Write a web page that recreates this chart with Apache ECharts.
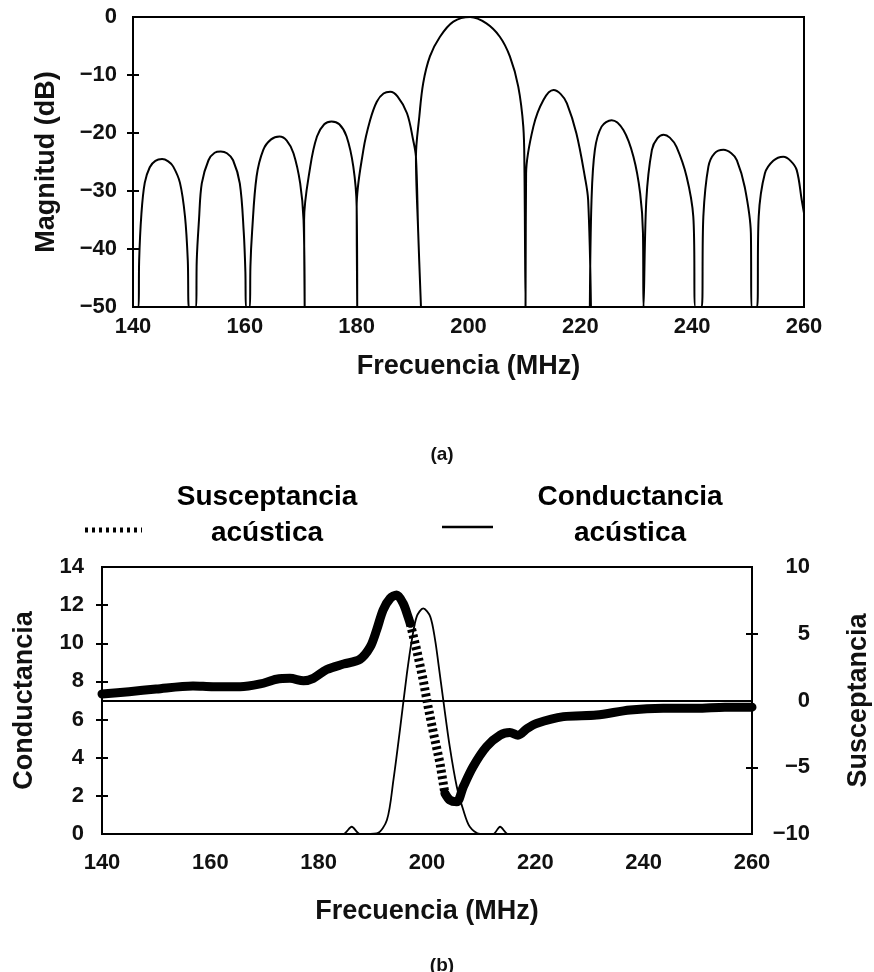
<!DOCTYPE html>
<html>
<head>
<meta charset="utf-8">
<script src="https://cdn.jsdelivr.net/npm/echarts@6/dist/echarts.min.js"></script>
<style>
  html, body { margin: 0; padding: 0; background: #fff; }
  #chart { width: 874px; height: 972px; }
</style>
</head>
<body>
<div id="chart"></div>
<script>
var freqA = [
    140,
    141.0, 141.1, 141.5, 142.1, 143.0, 144.0, 145.2, 146.3, 147.2, 148.4, 149.3, 149.8, 150.0,
    151.3, 151.4, 151.8, 152.3, 153.5, 154.6, 155.7, 156.8, 157.9, 159.1, 159.8, 160.1, 160.2,
    160.9, 161.0, 161.3, 162.1, 163.3, 164.7, 166.2, 167.5, 168.7, 169.9, 170.5, 170.7,
    170.6, 171.7, 172.9, 174.2, 175.5, 176.9, 178.2, 179.4, 180.0, 180.1,
    180.0, 181.2, 182.4, 183.6, 184.8, 186.0, 187.3, 189.0, 190.1, 190.6, 191.0, 191.5,
    191.0, 190.6, 191.2, 191.9, 193.1, 194.9, 197.3, 200.3, 203.2, 205.6, 207.4, 208.9, 209.8, 210.0, 210.2,
    210.3, 211.6, 213.4, 215.2, 216.5, 217.6, 219.3, 220.8, 221.4, 221.9,
    221.7, 222.0, 222.6, 223.8, 225.6, 227.7, 229.5, 230.7, 231.2, 231.3,
    231.8, 232.8, 233.8, 234.9, 236.0, 237.2, 239.0, 240.2, 240.6,
    241.7, 242.0, 242.9, 244.0, 245.6, 247.0, 248.0, 249.4, 250.5, 250.6,
    251.6, 251.9, 253.0, 254.5, 256.3, 257.6, 258.7, 259.6, 260
];
var magA = [
    -50,
    -50, -42, -34, -28.6, -25.9, -24.8, -24.5, -24.9, -25.8, -28.6, -34.4, -42, -50,
    -50, -42, -35, -28.7, -24.7, -23.4, -23.2, -23.5, -24.7, -28.7, -37, -44, -50,
    -50, -43, -37, -27.5, -22.9, -21.1, -20.6, -21.3, -23.5, -28.7, -35, -50,
    -35, -25.8, -20.6, -18.5, -18.0, -18.5, -20.6, -25.8, -32.7, -50,
    -32.7, -22.9, -17.8, -14.6, -13.2, -12.9, -13.7, -16.6, -21.2, -24.1, -37, -50,
    -37, -24.1, -17.2, -11.4, -6.8, -3.4, -0.8, 0, -1.1, -3.4, -6.8, -12, -18.9, -25.8, -50,
    -27, -18.9, -14.3, -12.6, -13.3, -14.9, -20.1, -27.5, -31.6, -50,
    -50, -31.6, -22.9, -18.9, -17.8, -19.5, -24.1, -30.4, -37.2, -50,
    -31.6, -22.9, -20.9, -20.3, -20.8, -22.4, -27.5, -34.4, -50,
    -50, -34.4, -25.8, -23.5, -22.9, -23.5, -24.7, -29.3, -37.3, -50,
    -50, -34.4, -27, -24.8, -24.1, -24.8, -26.4, -31.6, -33.8
];

// (b) conductancia acústica
var freqG = [140, 184.5, 186.1, 187.6, 190.7, 192.6, 193.8, 195.0, 196.3, 197.2, 198.1, 199.3,
    200.6, 201.5, 202.1, 203.0, 204.2, 205.5, 206.7, 207.9, 209.8, 212.2, 213.5, 215.0, 260];
var condG = [0, 0, 0.38, 0, 0.03, 0.73, 2.83, 5.45, 8.43, 10.17, 11.4, 11.83,
    11.4, 10.17, 8.95, 7.03, 4.58, 2.48, 1.26, 0.38, 0, 0, 0.38, 0, 0];

// (b) susceptancia acústica: tramo izquierdo, caída punteada, tramo derecho
var freqB1 = [140, 145, 150, 156.8, 160.5, 165.5, 169.2, 172.2, 174.7, 177.2, 179.0, 181.5,
    184.6, 187.6, 189.5, 190.7, 191.9, 193.2, 194.4, 195.6, 196.5, 196.9];
var suscB1 = [0.49, 0.66, 0.86, 1.09, 1.03, 1.03, 1.24, 1.59, 1.66, 1.48, 1.66, 2.32,
    2.73, 3.08, 4.0, 5.28, 6.78, 7.65, 7.9, 7.27, 6.28, 5.78];
var freqD = [196.9, 198.1, 199.3, 200.2, 201.2, 202.4, 203.1, 203.3];
var suscD = [5.78, 3.78, 1.53, -0.46, -2.46, -4.7, -6.46, -6.95];
var freqB2 = [203.3, 204.2, 205.5, 206.7, 208.5, 211.0, 213.5, 215.3, 216.8, 218.5, 220.2,
    225.2, 231.3, 237.5, 243.6, 249.8, 255, 260];
var suscB2 = [-6.95, -7.45, -7.58, -6.46, -4.96, -3.46, -2.6, -2.4, -2.6, -2.1, -1.72,
    -1.21, -1.09, -0.71, -0.58, -0.58, -0.5, -0.5];

// marcas que cruzan el eje
var magTicks = [-40, -30, -20, -10];
var condTicks = [2, 4, 6, 8, 10, 12];
var suscTicks = [-5, 5];

var FONT = '"Liberation Sans", Arial, sans-serif';

function zip(xs, ys) {
    var out = [];
    for (var i = 0; i < xs.length; i++) out.push([xs[i], ys[i]]);
    return out;
}

function minus(v) {
    return String(v).replace('-', '\u2212');
}

var labelStyle = { color: '#111', fontFamily: FONT, fontWeight: 'bold', fontSize: 22 };
var nameStyle = { color: '#111', fontFamily: FONT, fontWeight: 'bold', fontSize: 27 };

function xAxisFor(grid, margin, gap) {
    return {
        type: 'value', gridIndex: grid, min: 140, max: 260, interval: 20,
        axisLine: { show: true, lineStyle: { color: '#000', width: 2 } },
        axisTick: { show: false }, splitLine: { show: false },
        axisLabel: Object.assign({ margin: margin }, labelStyle),
        name: 'Frecuencia (MHz)', nameLocation: 'middle', nameGap: gap, nameTextStyle: nameStyle
    };
}

// el eje se desplaza 6 px hacia dentro para que la marca de 12 px cruce el borde del recuadro
function yAxisFor(grid, pos, min, max, step, ticks, margin, extra) {
    return Object.assign({
        type: 'value', gridIndex: grid, position: pos, min: min, max: max, interval: step,
        offset: -6,
        axisLine: { show: false }, splitLine: { show: false },
        axisTick: { show: true, length: 12, customValues: ticks, lineStyle: { color: '#000', width: 2 } },
        axisLabel: Object.assign({ margin: margin, formatter: minus }, labelStyle),
        nameLocation: 'middle', nameRotate: 90, nameTextStyle: nameStyle
    }, extra);
}

var chart = echarts.init(document.getElementById('chart'));

var option = {
    backgroundColor: '#fff',
    animation: false,
    title: [
        { text: '(a)', left: 437, top: 440, textAlign: 'center',
          textStyle: { fontFamily: FONT, fontWeight: 'bold', fontSize: 19, color: '#111' } },
        { text: '(b)', left: 437, top: 951, textAlign: 'center',
          textStyle: { fontFamily: FONT, fontWeight: 'bold', fontSize: 19, color: '#111' } }
    ],
    grid: [
        { left: 133, right: 70, top: 17, height: 290, show: true, borderColor: '#000', borderWidth: 2,
          outerBoundsMode: 'none' },
        { left: 102, right: 122, top: 567, height: 267, show: true, borderColor: '#000', borderWidth: 2,
          outerBoundsMode: 'none' }
    ],
    xAxis: [
        xAxisFor(0, 9, 46),
        xAxisFor(1, 18, 64)
    ],
    yAxis: [
        yAxisFor(0, 'left', -50, 0, 10, magTicks, 22, { name: 'Magnitud (dB)', nameGap: 79 }),
        yAxisFor(1, 'left', 0, 14, 2, condTicks, 24, { name: 'Conductancia', nameGap: 70 }),
        yAxisFor(1, 'right', -10, 10, 5, suscTicks, 64,
            { name: 'Susceptancia', nameGap: 99, axisLabel: Object.assign({ margin: 64, align: 'right', formatter: minus }, labelStyle) })
    ],
    series: [
        {
            name: 'Magnitud', type: 'line', xAxisIndex: 0, yAxisIndex: 0,
            data: zip(freqA, magA), symbol: 'none', smooth: 0.35,
            lineStyle: { color: '#000', width: 2 }
        },
        {
            name: 'Conductancia acústica', type: 'line', xAxisIndex: 1, yAxisIndex: 1,
            data: zip(freqG, condG), symbol: 'none', smooth: 0.3,
            lineStyle: { color: '#000', width: 1.8 }
        },
        {
            name: 'Susceptancia acústica', type: 'line', xAxisIndex: 1, yAxisIndex: 2,
            data: zip(freqB1, suscB1), symbol: 'none', smooth: 0.3,
            lineStyle: { color: '#000', width: 9, cap: 'round', join: 'round' },
            markLine: {
                silent: true, symbol: 'none', label: { show: false },
                lineStyle: { color: '#000', width: 2, type: 'solid' },
                data: [{ yAxis: 0 }]
            }
        },
        {
            name: 'Susceptancia acústica', type: 'line', xAxisIndex: 1, yAxisIndex: 2,
            data: zip(freqD, suscD), symbol: 'none',
            lineStyle: { color: '#000', width: 9, type: [3, 3] }
        },
        {
            name: 'Susceptancia acústica', type: 'line', xAxisIndex: 1, yAxisIndex: 2,
            data: zip(freqB2, suscB2), symbol: 'none', smooth: 0.3,
            lineStyle: { color: '#000', width: 9, cap: 'round', join: 'round' }
        }
    ],
    graphic: [
        { type: 'line', shape: { x1: 85, y1: 530, x2: 142, y2: 530 },
          style: { stroke: '#000', lineWidth: 5, lineDash: [3, 4] } },
        { type: 'text', x: 267, y: 497,
          style: { text: 'Susceptancia', align: 'center', verticalAlign: 'middle', font: 'bold 28px ' + FONT, fill: '#000' } },
        { type: 'text', x: 267, y: 533,
          style: { text: 'acústica', align: 'center', verticalAlign: 'middle', font: 'bold 28px ' + FONT, fill: '#000' } },
        { type: 'line', shape: { x1: 442, y1: 527, x2: 493, y2: 527 },
          style: { stroke: '#000', lineWidth: 2.5 } },
        { type: 'text', x: 630, y: 497,
          style: { text: 'Conductancia', align: 'center', verticalAlign: 'middle', font: 'bold 28px ' + FONT, fill: '#000' } },
        { type: 'text', x: 630, y: 533,
          style: { text: 'acústica', align: 'center', verticalAlign: 'middle', font: 'bold 28px ' + FONT, fill: '#000' } }
    ]
};

chart.setOption(option);
</script>
</body>
</html>
